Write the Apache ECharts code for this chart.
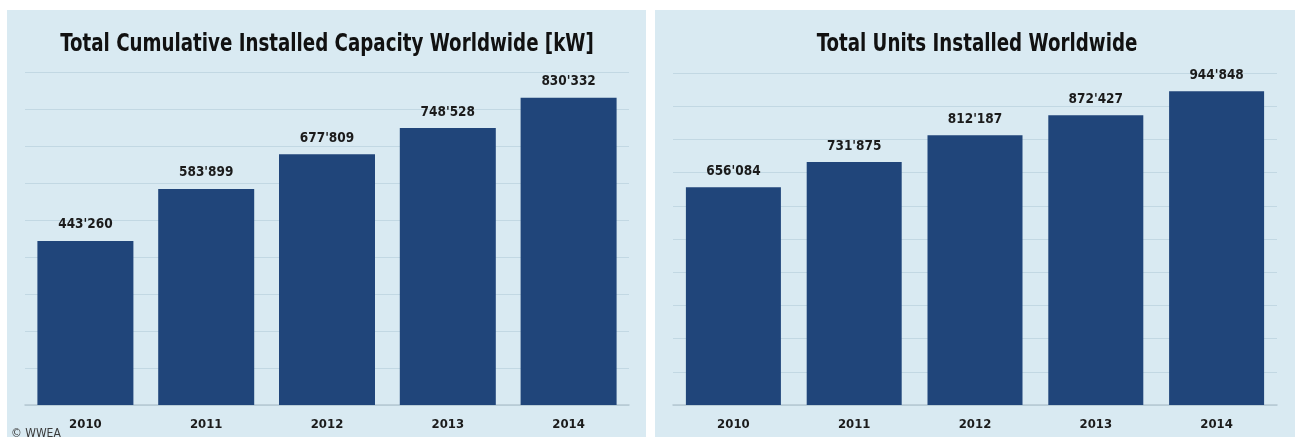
<!DOCTYPE html>
<html>
<head>
<meta charset="utf-8">
<script src="https://cdn.jsdelivr.net/npm/echarts@6/dist/echarts.min.js"></script>
<style>
  html, body { margin: 0; padding: 0; background: #ffffff; }
  #chart { width: 1298px; height: 437px; }
</style>
</head>
<body>
<div id="chart"></div>
<script>
// Wind-energy installation statistics, 2010–2014
const years = ['2010', '2011', '2012', '2013', '2014'];
const capacityKW = [443260, 583899, 677809, 748528, 830332];
const unitsInstalled = [656084, 731875, 812187, 872427, 944848];
const panelTitles = ['Total Cumulative Installed Capacity Worldwide [kW]', 'Total Units Installed Worldwide'];
const sourceNote = '© WWEA';

const FONT = "'DejaVu Sans Condensed', 'DejaVu Sans', sans-serif";
const PANEL_BG = '#d9eaf2';
const GRID_LINE = '#c2d8e3';
const BAR_BLUE = '#20457a';
const TEXT = '#1b1b1b';

// 443260 -> 443'260
function swissThousands(v) {
  return String(v).replace(/\B(?=(\d{3})+(?!\d))/g, "'");
}

function valueAxis(gridIndex, max) {
  return {
    type: 'value', gridIndex: gridIndex, min: 0, max: max, interval: 100000,
    axisLabel: { show: false }, axisTick: { show: false }, axisLine: { show: false },
    splitLine: { lineStyle: { color: GRID_LINE, width: 1 } }
  };
}

function categoryAxis(gridIndex) {
  return {
    type: 'category', gridIndex: gridIndex, data: years,
    axisTick: { show: false },
    axisLine: { lineStyle: { color: '#b5c8d2', width: 1.5 } },
    axisLabel: { color: TEXT, fontFamily: FONT, fontWeight: 'bold', fontSize: 13, margin: 13 }
  };
}

function barSeries(idx, values, width) {
  return {
    type: 'bar', xAxisIndex: idx, yAxisIndex: idx, data: values,
    barWidth: width,
    itemStyle: { color: BAR_BLUE },
    label: {
      show: true, position: 'top', distance: 9,
      color: TEXT, fontFamily: FONT, fontWeight: 'bold', fontSize: 13.5,
      formatter: function (p) { return swissThousands(p.value); }
    }
  };
}

// Panel heading drawn narrow and tall, like a condensed display face
function heading(cx, text) {
  return {
    type: 'text', z: 10, x: cx, y: 45, scaleX: 0.845, scaleY: 1,
    style: { x: 0, y: 0, text: text, textAlign: 'center', textVerticalAlign: 'middle',
      fill: '#111', font: "bold 24px " + FONT }
  };
}

const chart = echarts.init(document.getElementById('chart'), null, { renderer: 'canvas' });

chart.setOption({
  animation: false,
  backgroundColor: '#ffffff',
  grid: [
    { left: 25, top: 72, width: 604, height: 333 },
    { left: 673, top: 73, width: 604, height: 332 }
  ],
  xAxis: [categoryAxis(0), categoryAxis(1)],
  yAxis: [valueAxis(0, 900000), valueAxis(1, 1000000)],
  series: [barSeries(0, capacityKW, 96), barSeries(1, unitsInstalled, 95)],
  graphic: [
    { type: 'rect', z: -100, silent: true, shape: { x: 7, y: 10, width: 639, height: 427 }, style: { fill: PANEL_BG } },
    { type: 'rect', z: -100, silent: true, shape: { x: 655, y: 10, width: 640, height: 427 }, style: { fill: PANEL_BG } },
    heading(327, panelTitles[0]),
    heading(977, panelTitles[1]),
    { type: 'text', z: 10, style: { x: 11, y: 434, text: sourceNote, textAlign: 'left', textVerticalAlign: 'middle',
        fill: '#3a3a3a', font: "12px " + FONT } }
  ]
});
</script>
</body>
</html>
